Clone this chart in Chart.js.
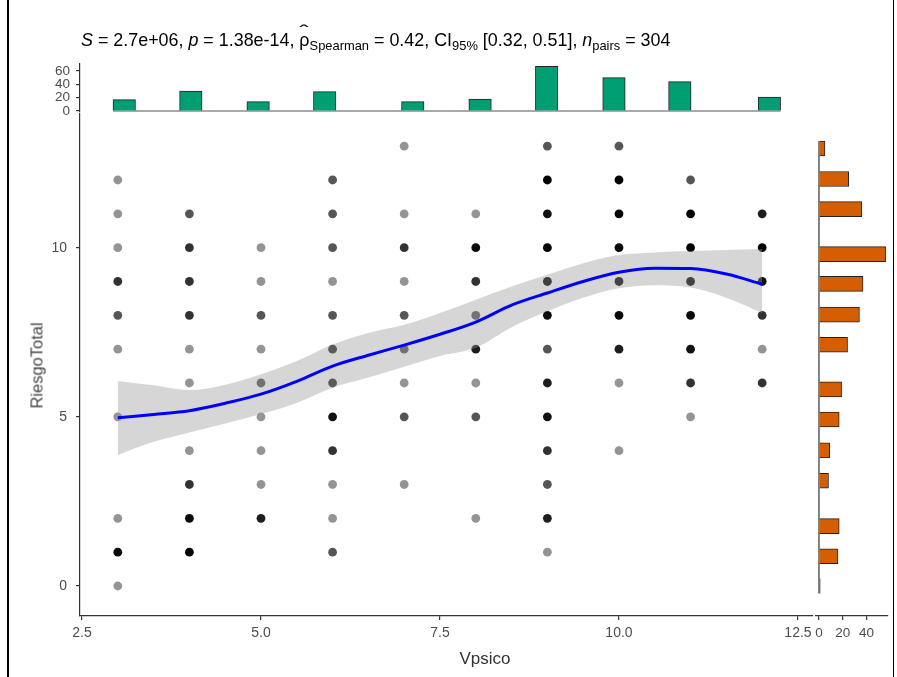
<!DOCTYPE html>
<html>
<head>
<meta charset="utf-8">
<script src="https://cdn.jsdelivr.net/npm/chart.js@4.4.1/dist/chart.umd.min.js"></script>
<style>
  body { margin: 0; background: #fff; }
  #wrap { position: relative; width: 897px; height: 677px; overflow: hidden; font-family: "Liberation Sans", Arial, sans-serif; }
  canvas { position: absolute; left: 0; top: 0; }
  #frame { position: absolute; left: 7px; top: -2px; width: 884px; height: 690px; border-left: 2px solid #000; border-right: 1px solid #000; }
  #title { position: absolute; left: 81px; top: 32px; font-size: 17.9px; line-height: 17.9px; color: #000; white-space: nowrap; }
  #title sub { font-size: 12.9px; vertical-align: -4px; line-height: 0; }
  #title .hat { position: relative; display: inline-block; }
  #title .hat b { position: absolute; left: 0; right: 0; top: -9px; text-align: center; font-weight: normal; font-size: 17px; transform: scaleX(1.6); }
  #xlab { position: absolute; left: 385px; width: 200px; top: 650px; text-align: center; font-size: 17px; line-height: 17px; color: #333; }
  #ylab { position: absolute; left: -63px; top: 357px; width: 200px; text-align: center; font-size: 16.5px; line-height: 17px; color: #444; transform: rotate(-90deg); }
</style>
</head>
<body>
<div id="wrap">
  <div id="frame"></div>
  <canvas id="topHist" width="897" height="677"></canvas>
  <canvas id="mainPlot" width="897" height="677"></canvas>
  <canvas id="rightHist" width="897" height="677"></canvas>
  <div id="title"><i>S</i> = 2.7e+06, <i>p</i> = 1.38e-14, <span class="hat">ρ<b>ˆ</b></span><sub>Spearman</sub> = 0.42, CI<sub>95%</sub> [0.32, 0.51], <i>n</i><sub>pairs</sub> = 304</div>
  <div id="xlab">Vpsico</div>
  <div id="ylab">RiesgoTotal</div>
</div>
<script>
// scatter cells: Vpsico, RiesgoTotal, number of overlapping observations
var cellX = [3,3,3,3,3,3,3,3,3,3,
  4,4,4,4,4,4,4,4,4,4,
  5,5,5,5,5,5,5,5,5,
  6,6,6,6,6,6,6,6,6,6,6,6,
  7,7,7,7,7,7,7,7,7,
  8,8,8,8,8,8,8,8,
  9,9,9,9,9,9,9,9,9,9,9,9,9,
  10,10,10,10,10,10,10,10,10,
  11,11,11,11,11,11,11,11,
  12,12,12,12,12,12];
var cellY = [12,11,10,9,8,7,5,2,1,0,
  11,10,9,8,7,6,4,3,2,1,
  10,9,8,7,6,5,4,3,2,
  12,11,10,9,8,7,6,5,4,3,2,1,
  13,11,10,9,8,7,6,5,3,
  11,10,9,8,7,6,5,2,
  13,12,11,10,9,8,7,6,5,4,3,2,1,
  13,12,11,10,9,8,7,6,4,
  12,11,10,9,8,7,6,5,
  11,10,9,8,7,6];
var cellN = [1,1,1,3,2,1,1,1,6,1,
  2,3,3,3,1,1,1,3,6,7,
  1,1,2,1,2,1,1,1,4,
  2,2,2,1,2,3,3,5,3,1,1,2,
  1,1,3,1,2,2,1,2,1,
  1,6,3,2,4,1,2,1,
  2,9,5,14,8,6,2,4,5,3,2,4,1,
  2,11,11,6,6,6,4,1,1,
  2,9,12,6,6,5,3,1,
  4,8,5,3,1,3];

// loess fit with 95% band
var smoothX = [3,3.5,4,4.5,5,5.5,6,6.5,7,7.5,8,8.5,9,9.5,10,10.5,11,11.5,12];
var smoothFit = [4.97,5.07,5.18,5.4,5.67,6.05,6.5,6.82,7.12,7.44,7.8,8.3,8.66,9.0,9.27,9.39,9.38,9.22,8.92];
var smoothHi = [6.06,5.93,5.79,5.95,6.26,6.65,7.14,7.48,7.72,8.07,8.46,8.85,9.2,9.54,9.78,9.86,9.9,9.93,9.96];
var smoothLo = [3.87,4.26,4.54,4.8,5.08,5.41,5.86,6.16,6.48,6.8,7.04,7.65,8.12,8.52,8.8,8.89,8.82,8.52,8.07];

// marginal histograms
var topBins = [3.09,4.02,4.96,5.89,7.12,8.06,8.99,9.93,10.85,12.1];
var topCounts = [17,30,14,29,14,18,67,50,44,21];
var rightBins = [12.93,12.03,11.14,9.81,8.93,8.02,7.13,5.81,4.92,4.01,3.11,1.77,0.88,0.0];
var rightCounts = [5,25,36,56,37,34,24,19,17,9,8,17,16,1];

var xTicks = [2.5,5,7.5,10,12.5];
var yTicks = [0,5,10];
var topTicks = [0,20,40,60];
var rightTicks = [0,20,40];

var FONT = "'Liberation Sans', Arial, sans-serif";
var TICK_COL = "#4d4d4d";
var AXIS_COL = "#333333";
var X_MIN = 2.472, X_MAX = 12.71;
var Y_MIN = -0.887, Y_MAX = 13.95;

function fixedTicks(list) {
  return function (scale) {
    scale.ticks = list.map(function (v) { return { value: v }; });
  };
}

function pts(xs, ys) {
  return xs.map(function (x, i) { return { x: x, y: ys[i] }; });
}

// main scatter
var scatterData = pts(cellX, cellY);
var scatterCol = cellN.map(function (n) {
  return "rgba(0,0,0," + (1 - Math.pow(0.58, n)).toFixed(3) + ")";
});

new Chart(document.getElementById("mainPlot"), {
  type: "scatter",
  data: {
    datasets: [
      {
        data: scatterData,
        backgroundColor: scatterCol,
        pointRadius: 4.4,
        borderWidth: 0,
        order: 3,
      },
      {
        type: "line",
        data: pts(smoothX, smoothLo),
        borderWidth: 0,
        pointRadius: 0,
        fill: false,
        cubicInterpolationMode: "monotone",
        order: 2,
      },
      {
        type: "line",
        data: pts(smoothX, smoothHi),
        borderWidth: 0,
        pointRadius: 0,
        fill: "-1",
        backgroundColor: "rgba(153,153,153,0.4)",
        cubicInterpolationMode: "monotone",
        order: 1,
      },
      {
        type: "line",
        data: pts(smoothX, smoothFit),
        borderColor: "#0000ff",
        borderWidth: 3,
        pointRadius: 0,
        fill: false,
        cubicInterpolationMode: "monotone",
        order: 0,
      },
    ],
  },
  options: {
    responsive: false,
    animation: false,
    events: [],
    layout: { padding: { left: 40, right: 84, top: 114, bottom: 21 } },
    plugins: { legend: { display: false }, tooltip: { enabled: false } },
    scales: {
      x: {
        type: "linear",
        min: X_MIN,
        max: X_MAX,
        afterBuildTicks: fixedTicks(xTicks),
        afterFit: function (s) { s.height = 40; },
        border: { display: true, color: AXIS_COL, width: 1.2 },
        grid: { drawOnChartArea: false, drawTicks: true, tickLength: 4, color: AXIS_COL, lineWidth: 1.2 },
        ticks: {
          padding: 5,
          autoSkip: false,
          color: TICK_COL,
          font: { family: FONT, size: 14 },
          maxRotation: 0,
          callback: function (v) { return v.toFixed(1); },
        },
      },
      y: {
        type: "linear",
        min: Y_MIN,
        max: Y_MAX,
        afterBuildTicks: fixedTicks(yTicks),
        afterFit: function (s) { s.width = 40; },
        border: { display: true, color: AXIS_COL, width: 1.2 },
        grid: { drawOnChartArea: false, drawTicks: true, tickLength: 4, color: AXIS_COL, lineWidth: 1.2 },
        ticks: { padding: 9, autoSkip: false, color: TICK_COL, font: { family: FONT, size: 14 } },
      },
    },
  },
});

// top marginal histogram (Vpsico)
var topHalf = 0.157;
new Chart(document.getElementById("topHist"), {
  type: "bar",
  data: {
    datasets: [
      {
        data: pts(topBins, topCounts),
        backgroundColor: "#009E73",
        borderColor: "#222",
        borderWidth: 1,
        barThickness: 22.5,
        order: 0,
      },
      {
        type: "line",
        data: [
          { x: topBins[0] - topHalf, y: 0 },
          { x: topBins[topBins.length - 1] + topHalf, y: 0 },
        ],
        borderColor: "#555",
        borderWidth: 1,
        pointRadius: 0,
        order: 1,
      },
    ],
  },
  options: {
    responsive: false,
    animation: false,
    events: [],
    layout: { padding: { left: 40, right: 84, top: 64, bottom: 565 } },
    plugins: { legend: { display: false }, tooltip: { enabled: false } },
    scales: {
      x: { type: "linear", min: X_MIN, max: X_MAX, offset: false, display: false },
      y: {
        type: "linear",
        min: -1.5,
        max: 70.5,
        afterBuildTicks: fixedTicks(topTicks),
        afterFit: function (s) { s.width = 40; },
        border: { display: true, color: AXIS_COL, width: 1.2 },
        grid: { drawOnChartArea: false, drawTicks: true, tickLength: 4, color: AXIS_COL, lineWidth: 1.2 },
        ticks: { padding: 6, autoSkip: false, color: TICK_COL, font: { family: FONT, size: 13.5, lineHeight: 1 } },
      },
    },
  },
});

// right marginal histogram (RiesgoTotal)
var rightHalf = 0.224;
new Chart(document.getElementById("rightHist"), {
  type: "bar",
  data: {
    datasets: [
      {
        data: rightCounts.map(function (c, i) { return { x: c, y: rightBins[i] }; }),
        backgroundColor: "#D55E00",
        borderColor: "#222",
        borderWidth: 1,
        barThickness: 15,
        order: 0,
      },
      {
        type: "line",
        data: [
          { x: 0, y: rightBins[0] + rightHalf },
          { x: 0, y: rightBins[rightBins.length - 1] - rightHalf },
        ],
        borderColor: "#333",
        borderWidth: 1.2,
        pointRadius: 0,
        order: 1,
      },
    ],
  },
  options: {
    indexAxis: "y",
    responsive: false,
    animation: false,
    events: [],
    layout: { padding: { left: 816, right: 9, top: 114, bottom: 21 } },
    plugins: { legend: { display: false }, tooltip: { enabled: false } },
    scales: {
      y: { type: "linear", min: Y_MIN, max: Y_MAX, offset: false, display: false },
      x: {
        type: "linear",
        min: -2.5,
        max: 58,
        afterBuildTicks: fixedTicks(rightTicks),
        afterFit: function (s) { s.height = 40; },
        border: { display: true, color: AXIS_COL, width: 1.2 },
        grid: { drawOnChartArea: false, drawTicks: true, tickLength: 4, color: AXIS_COL, lineWidth: 1.2 },
        ticks: { padding: 5, autoSkip: false, color: TICK_COL, font: { family: FONT, size: 13.5 }, maxRotation: 0 },
      },
    },
  },
});
</script>
</body>
</html>
